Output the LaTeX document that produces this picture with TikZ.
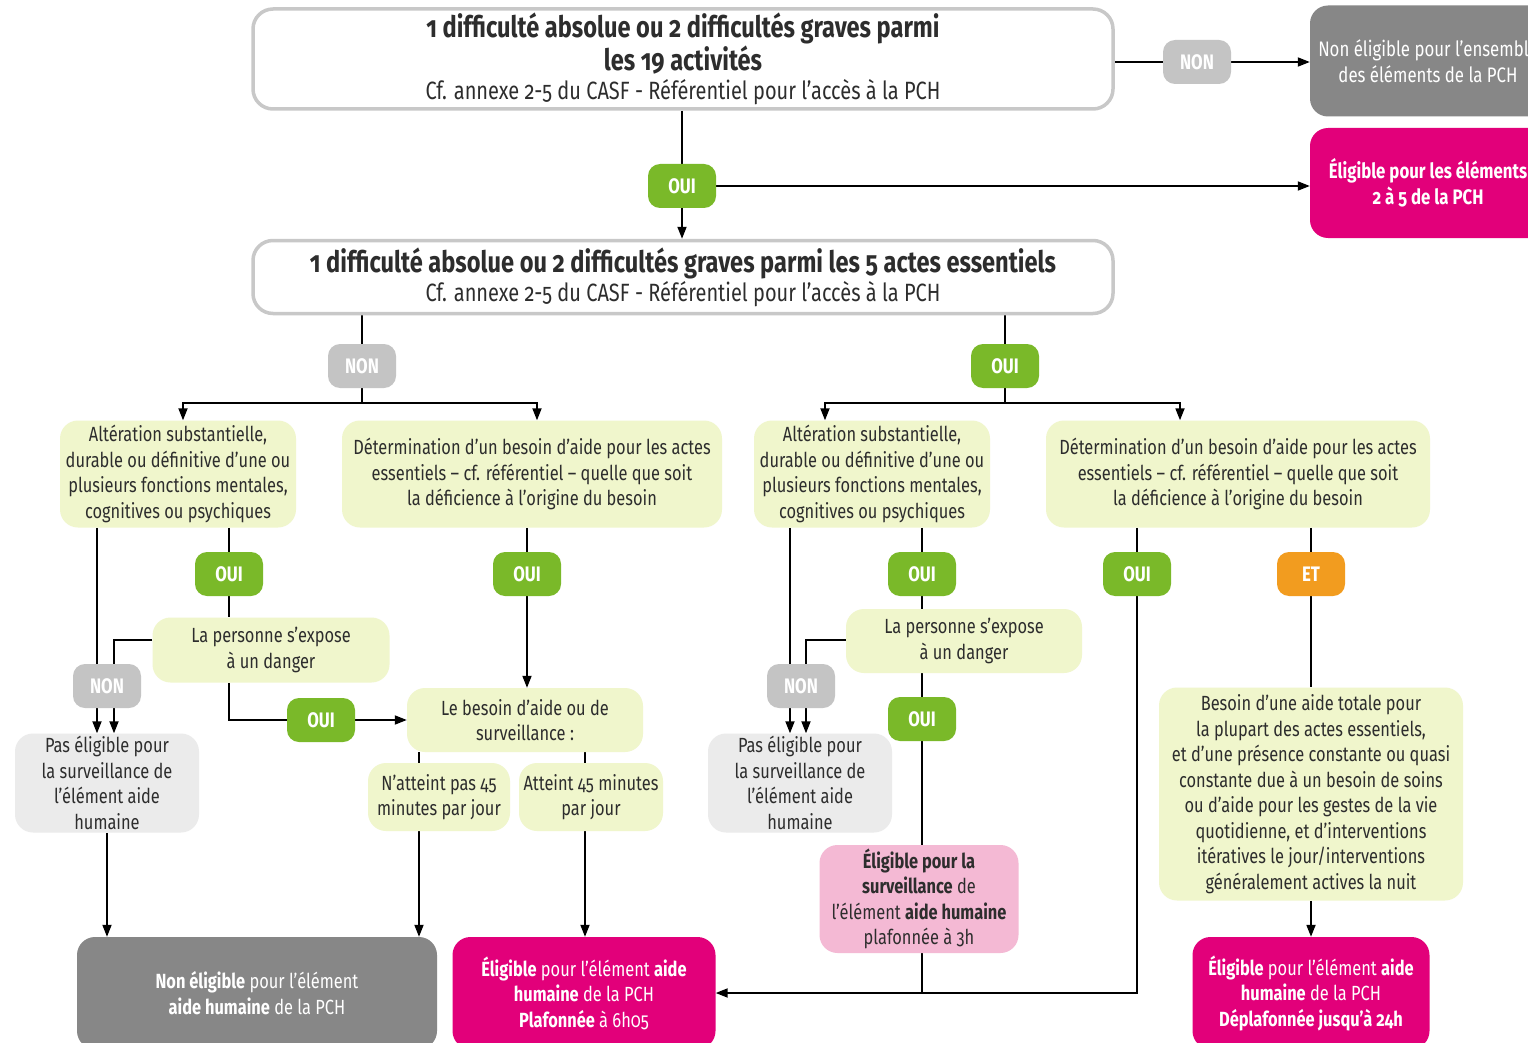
\documentclass[tikz,border=0pt]{standalone}
\usepackage{fontspec}
\setmainfont[FakeStretch=0.8,Numbers=OldStyle]{Fira Sans}
\usetikzlibrary{arrows.meta,backgrounds}

\definecolor{vert}{RGB}{122,185,41}
\definecolor{gris}{RGB}{196,196,196}
\definecolor{grisbord}{RGB}{200,200,200}
\definecolor{grisfonce}{RGB}{135,135,135}
\definecolor{grisclair}{RGB}{235,235,235}
\definecolor{jaune}{RGB}{240,246,204}
\definecolor{rose}{RGB}{226,0,122}
\definecolor{rosepale}{RGB}{244,185,212}
\definecolor{orangeet}{RGB}{242,156,31}
\definecolor{encre}{RGB}{45,45,45}

\newcommand{\corps}{\fontsize{20.5}{25.5}\selectfont}
\newcommand{\grand}{\fontsize{21}{25.5}\selectfont}
\newcommand{\titre}{\fontsize{29.5}{33}\selectfont\bfseries}
\newcommand{\renvoi}{\fontsize{25}{33}\selectfont\mdseries}
\newcommand{\etiq}{\fontsize{21}{24}\selectfont\bfseries}

\begin{document}
\begin{tikzpicture}[x=1pt, y=-1pt, >={Triangle[length=12pt,width=9pt]}]
\tikzstyle{every node} = [font=\corps, text=encre, align=center, inner sep=0pt]
\tikzstyle{cadre} = [draw=grisbord, line width=3.5pt, fill=white, rounded corners=20pt, font=\titre]
\tikzstyle{boite} = [fill=jaune, rounded corners=18pt]
\tikzstyle{pasbox} = [fill=grisclair, rounded corners=18pt]
\tikzstyle{nonbox} = [fill=grisfonce, text=white, rounded corners=18pt]
\tikzstyle{eligbox} = [fill=rose, text=white, rounded corners=18pt]
\tikzstyle{pill} = [rounded corners=12pt, minimum width=68, minimum height=44, text=white, font=\etiq]
\tikzstyle{oui} = [pill, fill=vert]
\tikzstyle{non} = [pill, fill=gris]
\tikzstyle{et} = [pill, fill=orangeet]
\tikzstyle{trait} = [line width=1.8pt]
\tikzstyle{fleche} = [trait, ->]

\path[use as bounding box, clip] (0,0) rectangle (1528,1043);

% critere des 19 activites
\node[cadre, minimum width=860, minimum height=100] (crit19) at (683,59) {1 difficulté absolue ou 2 difficultés graves parmi\\ les 19 activités\\[-4pt] \renvoi Cf. annexe 2-5 du CASF - Référentiel pour l’accès à la PCH};
\node[non] (non0) at (1197,62) {NON};
\node[nonbox, minimum width=236, minimum height=111, font=\grand] (nonall) at (1428,61) {Non éligible pour l’ensemble\\ des éléments de la PCH};
\node[oui] (oui0) at (682,186) {OUI};
\node[eligbox, minimum width=236, minimum height=110, font=\grand\bfseries] (elig25) at (1428,183) {Éligible pour les éléments\\ 2 à 5 de la PCH};

% critere des 5 actes
\node[cadre, minimum width=860, minimum height=73] (crit5) at (683,277) {1 difficulté absolue ou 2 difficultés graves parmi les 5 actes essentiels\\[-4pt] \renvoi Cf. annexe 2-5 du CASF - Référentiel pour l’accès à la PCH};
\node[non] (non1) at (362,366) {NON};
\node[oui] (oui1) at (1005,366) {OUI};

\node[boite, minimum width=236, minimum height=107] (alt1) at (178,474) {Altération substantielle,\\ durable ou définitive d’une ou\\ plusieurs fonctions mentales,\\ cognitives ou psychiques};
\node[boite, minimum width=380, minimum height=107] (det1) at (532,474) {Détermination d’un besoin d’aide pour les actes\\ essentiels – cf. référentiel – quelle que soit\\ la déficience à l’origine du besoin};
\node[boite, minimum width=236, minimum height=107] (alt2) at (872,474) {Altération substantielle,\\ durable ou définitive d’une ou\\ plusieurs fonctions mentales,\\ cognitives ou psychiques};
\node[boite, minimum width=384, minimum height=107] (det2) at (1238,474) {Détermination d’un besoin d’aide pour les actes\\ essentiels – cf. référentiel – quelle que soit\\ la déficience à l’origine du besoin};

\node[oui] (oui2) at (229,574) {OUI};
\node[oui] (oui3) at (527,574) {OUI};
\node[oui] (oui4) at (922,574) {OUI};
\node[oui] (oui5) at (1137,574) {OUI};
\node[et] (et1) at (1311,574) {ET};

\node[boite, minimum width=237, minimum height=65] (danger1) at (271,650) {La personne s’expose\\ à un danger};
\node[boite, minimum width=236, minimum height=64] (danger2) at (964,641) {La personne s’expose\\ à un danger};
\node[non] (non2) at (107,686) {NON};
\node[non] (non3) at (801,686) {NON};
\node[oui] (oui6) at (321,720) {OUI};
\node[oui] (oui7) at (922,719) {OUI};

\node[pasbox, minimum width=184, minimum height=99] (pas1) at (107,783) {Pas éligible pour\\ la surveillance de\\ l’élément aide\\ humaine};
\node[pasbox, minimum width=184, minimum height=99] (pas2) at (800,783) {Pas éligible pour\\ la surveillance de\\ l’élément aide\\ humaine};

\node[boite, minimum width=236, minimum height=64] (besoin) at (525,720) {Le besoin d’aide ou de\\ surveillance :};
\node[boite, minimum width=142, minimum height=68] (moins45) at (439,797) {N’atteint pas 45\\ minutes par jour};
\node[boite, minimum width=144, minimum height=68] (plus45) at (591,797) {Atteint 45 minutes\\ par jour};

\node[fill=rosepale, rounded corners=18pt, minimum width=199, minimum height=108] (surv) at (919,899) {\textbf{Éligible pour la}\\ \textbf{surveillance} de\\ l’élément \textbf{aide humaine}\\ plafonnée à 3h};
\node[boite, minimum width=304, minimum height=213] (total) at (1311,794) {Besoin d’une aide totale pour\\ la plupart des actes essentiels,\\ et d’une présence constante ou quasi\\ constante due à un besoin de soins\\ ou d’aide pour les gestes de la vie\\ quotidienne, et d’interventions\\ itératives le jour/interventions\\ généralement actives la nuit};

% conclusions
\node[nonbox, minimum width=360, minimum height=112] (nonah) at (257,993) {\textbf{Non éligible} pour l’élément\\ \textbf{aide humaine} de la PCH};
\node[eligbox, minimum width=263, minimum height=112] (elig6) at (584,993) {\textbf{Éligible} pour l’élément \textbf{aide}\\ \textbf{humaine} de la PCH\\ \textbf{Plafonnée} à 6h05};
\node[eligbox, minimum width=237, minimum height=112] (elig24) at (1311,993) {\textbf{Éligible} pour l’élément \textbf{aide}\\ \textbf{humaine} de la PCH\\ \textbf{Déplafonnée jusqu’à 24h}};

\coordinate (g1) at (362,403);
\coordinate (g1a) at (183,403);
\coordinate (g1b) at (537,403);
\coordinate (d1) at (1005,403);
\coordinate (d1a) at (825,403);
\coordinate (d1b) at (1180,403);
\coordinate (n2a) at (97,686);
\coordinate (n2b) at (114,640);
\coordinate (n3a) at (790,686);
\coordinate (n3b) at (806,640);
\coordinate (colA) at (419,797);
\coordinate (colB) at (585,797);

\begin{pgfonlayer}{background}
\fill[white] (0,0) rectangle (1528,1043);
\draw[fleche] (crit19.east |- non0) -- (nonall.west |- non0);
\draw[fleche] (crit19.south -| oui0) -- (crit5.north -| oui0);
\draw[fleche] (oui0) -- (elig25.west |- oui0);

% branche NON
\draw[trait] (crit5.south -| non1) -- (g1);
\draw[fleche] (g1) -- (g1a) -- (alt1.north -| g1a);
\draw[fleche] (g1) -- (g1b) -- (det1.north -| g1b);
\draw[fleche] (alt1.south -| n2a) -- (pas1.north -| n2a);
\draw[fleche] (danger1.west |- n2b) -- (n2b) -- (pas1.north -| n2b);
\draw[trait] (alt1.south -| oui2) -- (danger1.north -| oui2);
\draw[fleche] (danger1.south -| oui2) |- (oui6) -- (besoin.west);
\draw[fleche] (det1.south -| oui3) -- (besoin.north -| oui3);
\draw[trait] (besoin.south -| colA) -- (moins45.north -| colA);
\draw[trait] (besoin.south -| colB) -- (plus45.north -| colB);
\draw[fleche] (moins45.south -| colA) -- (nonah.north -| colA);
\draw[fleche] (plus45.south -| colB) -- (elig6.north -| colB);
\draw[fleche] (pas1.south) -- (nonah.north -| pas1);

% branche OUI
\draw[trait] (crit5.south -| oui1) -- (d1);
\draw[fleche] (d1) -- (d1a) -- (alt2.north -| d1a);
\draw[fleche] (d1) -- (d1b) -- (det2.north -| d1b);
\draw[fleche] (alt2.south -| n3a) -- (pas2.north -| n3a);
\draw[fleche] (danger2.west |- n3b) -- (n3b) -- (pas2.north -| n3b);
\draw[trait] (alt2.south -| oui4) -- (danger2.north -| oui4);
\draw[trait] (danger2.south -| oui7) -- (surv.north -| oui7);
\draw[trait] (surv.south -| oui7) -- (oui7 |- elig6.east);
\draw[fleche] (det2.south -| oui5) |- (elig6.east);
\draw[trait] (det2.south -| et1) -- (total.north -| et1);
\draw[fleche] (total.south) -- (elig24.north);
\end{pgfonlayer}
\end{tikzpicture}
\end{document}
